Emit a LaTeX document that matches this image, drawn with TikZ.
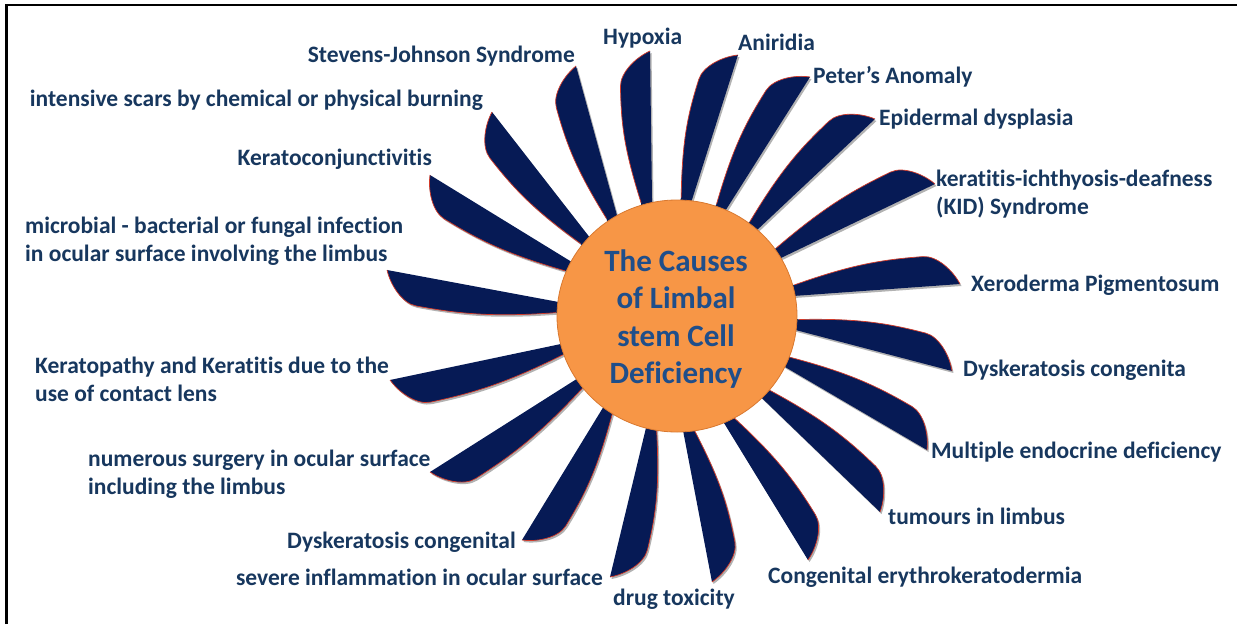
\documentclass[tikz,border=0pt]{standalone}
\usepackage{fontspec}
\setmainfont{Carlito}[Ligatures={NoCommon}]
\definecolor{bladeblue}{HTML}{061A55}
\definecolor{bladered}{HTML}{D23B2A}
\definecolor{labelblue}{HTML}{17375E}
\definecolor{titleblue}{HTML}{1F4E8A}
\definecolor{discfill}{HTML}{F79646}
\definecolor{discline}{HTML}{D9782F}
\tikzset{
  lbl/.style={font=\bfseries\fontsize{23.5}{28}\selectfont, text=labelblue, inner sep=0pt},
  bladefill/.style={fill=bladeblue},
  bladeshadow/.style={fill=black, opacity=0.3},
  bladeline/.style={draw=bladered, line width=0.7pt},
  disc/.style={fill=discfill, draw=discline, line width=0.8pt},
  frame/.style={draw=black, line width=2.6pt}
}
% #1 name, #2 angle of the straight edge base on the disc, #3,#4 tip (image px)
\newcommand\bladeoutline{(-12,0) -- (\len,0)
      .. controls ({\len-6},-14) and ({\len-21},-30) .. ({\len-35},-30)
      .. controls ({0.75*\len-35},-30) and ({0.35*\len},-27) .. (0,-11)
      -- (-12,-11) -- cycle}
\newcommand\blade[4]{%
  \pgfmathsetmacro\bx{677+120*cos(#2)}%
  \pgfmathsetmacro\by{316-116*sin(#2)}%
  \pgfmathsetmacro\ang{atan2(\by-#4,#3-\bx)}%
  \pgfmathsetmacro\len{veclen(#3-\bx,#4-\by)}%
  \coordinate (#1-tip) at (#3,#4);
  \begin{scope}[shift={(\bx+1.5,\by+2)},rotate=\ang]
    \fill[bladeshadow] \bladeoutline;
  \end{scope}
  \begin{scope}[shift={(\bx,\by)},rotate=\ang]
    \fill[bladefill] \bladeoutline;
    \draw[bladeline] (\len,0)
      .. controls ({\len-6},-14) and ({\len-21},-30) .. ({\len-35},-30)
      .. controls ({0.75*\len-35},-30) and ({0.35*\len},-27) .. (0,-11);
  \end{scope}}
\begin{document}
\begin{tikzpicture}[x=1pt,y=-1pt]
\useasboundingbox (0,0) rectangle (1237,624);
\fill[white] (0,0) rectangle (1237,624);
\draw[frame] (6.5,624) -- (6.5,5) -- (1237,5);

\blade{stevens}{120}{576}{66}
\blade{hypoxia}{102}{650}{51}
\blade{aniridia}{83}{738}{55}
\blade{peter}{66}{810}{77}
\blade{epid}{48}{875}{119}
\blade{kid}{30}{935}{184}
\blade{xero}{10}{960}{284}
\blade{dyscong}{-7}{952}{371}
\blade{mult}{-26}{927}{450}
\blade{tumour}{-45}{880}{512}
\blade{congen}{-67}{808}{560}
\blade{drug}{-87}{712}{582}
\blade{severe}{-105}{610}{577}
\blade{dyscongl}{-128}{522}{540}
\blade{surgery}{-147}{430}{472}
\blade{lens}{-166}{390}{380}
\blade{microbial}{173}{387}{270}
\blade{kc}{152}{430}{175}
\blade{scars}{137}{492}{112}

\draw[disc] (677,316) ellipse [x radius=120pt, y radius=116pt];
\coordinate (disc) at (677,316);
\node[font=\bfseries\fontsize{31}{37.5}\selectfont, text=titleblue, inner sep=0pt, anchor=base] (title) at (676,271)
  {\begin{tabular}[t]{@{}c@{}}The Causes\\of Limbal\\stem Cell\\Deficiency\end{tabular}};

\node[lbl, anchor=base east] (l-stevens) at (575,62) {Stevens-Johnson Syndrome};
\node[lbl, anchor=base west] (l-hypoxia) at (603,44) {Hypoxia};
\node[lbl, anchor=base west] (l-aniridia) at (738,50) {Aniridia};
\node[lbl, anchor=base west] (l-peter) at (813,83) {Peter’s Anomaly};
\node[lbl, anchor=base west] (l-epid) at (879,125) {Epidermal dysplasia};
\node[lbl, anchor=base west] (l-kid) at (936,186)
  {\begin{tabular}[t]{@{}l@{}}keratitis-ichthyosis-deafness\\(KID) Syndrome\end{tabular}};
\node[lbl, anchor=base west] (l-xero) at (971,291) {Xeroderma Pigmentosum};
\node[lbl, anchor=base west] (l-dyscong) at (963,376) {Dyskeratosis congenita};
\node[lbl, anchor=base west] (l-mult) at (931,458) {Multiple endocrine deficiency};
\node[lbl, anchor=base west] (l-tumour) at (888,524) {tumours in limbus};
\node[lbl, anchor=base west] (l-congen) at (768,583) {Congenital erythrokeratodermia};
\node[lbl, anchor=base west] (l-drug) at (613,605) {drug toxicity};
\node[lbl, anchor=base east] (l-severe) at (603,585) {severe inflammation in ocular surface};
\node[lbl, anchor=base east] (l-dyscongl) at (516,548) {Dyskeratosis congenital};
\node[lbl, anchor=base west] (l-surgery) at (88,466)
  {\begin{tabular}[t]{@{}l@{}}numerous surgery in ocular surface\\including the limbus\end{tabular}};
\node[lbl, anchor=base west] (l-lens) at (35,373)
  {\begin{tabular}[t]{@{}l@{}}Keratopathy and Keratitis due to the\\use of contact lens\end{tabular}};
\node[lbl, anchor=base west] (l-microbial) at (25,233)
  {\begin{tabular}[t]{@{}l@{}}microbial - bacterial or fungal infection\\in ocular surface involving the limbus\end{tabular}};
\node[lbl, anchor=base east] (l-kc) at (432,165) {Keratoconjunctivitis};
\node[lbl, anchor=base east] (l-scars) at (483,106) {intensive scars by chemical or physical burning};
\end{tikzpicture}
\end{document}
